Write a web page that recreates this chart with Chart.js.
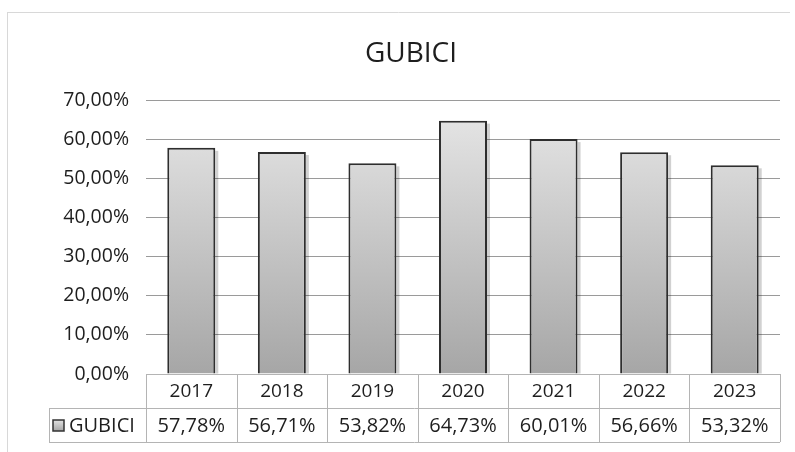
<!DOCTYPE html>
<html>
<head>
<meta charset="utf-8">
<script src="https://cdn.jsdelivr.net/npm/chart.js@4/dist/chart.umd.min.js"></script>
<style>
  html, body { margin: 0; padding: 0; background: #fff; }
  #wrap { width: 795px; height: 452px; position: relative; }
</style>
</head>
<body>
<div id="wrap"><canvas id="c" width="795" height="452"></canvas></div>
<script>
const titleText = 'GUBICI';
const seriesName = 'GUBICI';
const categories = ['2017', '2018', '2019', '2020', '2021', '2022', '2023'];
const values = [57.78, 56.71, 53.82, 64.73, 60.01, 56.66, 53.32];
const yMin = 0, yMax = 70, yStep = 10;

const FONT = "'Open Sans', 'Noto Sans', sans-serif";
const fmt = v => v.toFixed(2).replace('.', ',') + '%';

function barGradient(ctx) {
  const chart = ctx.chart;
  const area = chart.chartArea;
  if (!area) return '#c8c8c8';
  const g = chart.ctx.createLinearGradient(0, area.top, 0, area.bottom);
  g.addColorStop(0, '#e8e8e8');
  g.addColorStop(1, '#a6a6a6');
  return g;
}

const frameAndTable = {
  id: 'frameAndTable',
  beforeDatasetsDraw(chart) {
    // bar shadows
    const ctx = chart.ctx;
    const meta = chart.getDatasetMeta(0);
    ctx.save();
    ctx.fillStyle = 'rgba(0,0,0,0.18)';
    meta.data.forEach(b => {
      const w = b.width;
      ctx.fillRect(b.x + w / 2, b.y + 3, 3, b.base - b.y - 3);
    });
    ctx.restore();
  },
  afterDraw(chart) {
    const ctx = chart.ctx;
    const a = chart.chartArea;
    const n = categories.length;
    const cw = (a.right - a.left) / n;
    const r1Top = a.bottom, r1Bot = a.bottom + 34, r2Bot = a.bottom + 68;
    const leftCol = 49;
    ctx.save();
    // faint outer frame
    ctx.strokeStyle = '#d8d8d8';
    ctx.lineWidth = 1;
    ctx.beginPath();
    ctx.moveTo(7.5, 12); ctx.lineTo(7.5, 452);
    ctx.moveTo(7.5, 12.5); ctx.lineTo(790, 12.5);
    ctx.stroke();

    // title
    ctx.fillStyle = '#1e1e1e';
    ctx.textAlign = 'center';
    ctx.textBaseline = 'middle';
    ctx.font = '28px ' + FONT;
    ctx.fillText(titleText, 411, 54);

    // table borders
    ctx.strokeStyle = '#b4b4b4';
    ctx.beginPath();
    ctx.moveTo(a.left, r1Top + 0.5); ctx.lineTo(a.right, r1Top + 0.5);
    ctx.moveTo(leftCol, r1Bot + 0.5); ctx.lineTo(a.right, r1Bot + 0.5);
    ctx.moveTo(leftCol, r2Bot + 0.5); ctx.lineTo(a.right, r2Bot + 0.5);
    ctx.moveTo(leftCol + 0.5, r1Bot); ctx.lineTo(leftCol + 0.5, r2Bot);
    for (let i = 0; i <= n; i++) {
      const x = Math.round(a.left + i * cw) + 0.5;
      ctx.moveTo(x, r1Top); ctx.lineTo(x, r2Bot);
    }
    ctx.stroke();

    // texts
    ctx.fillStyle = '#1e1e1e';
    const xs = chart.scales.x;
    categories.forEach((c, i) => {
      const cx = xs.getPixelForValue(i);
      ctx.font = '19px ' + FONT;
      ctx.fillText(c, cx, (r1Top + r1Bot) / 2 + 1);
      ctx.font = '20px ' + FONT;
      ctx.fillText(fmt(values[i]), cx, (r1Bot + r2Bot) / 2 + 1);
    });

    // legend key + series name
    const ky = (r1Bot + r2Bot) / 2;
    const kx = 53;
    const g = ctx.createLinearGradient(0, ky - 6, 0, ky + 6);
    g.addColorStop(0, '#e8e8e8');
    g.addColorStop(1, '#a6a6a6');
    ctx.fillStyle = g;
    ctx.fillRect(kx, ky - 5, 11, 11);
    ctx.strokeStyle = '#333';
    ctx.lineWidth = 1.5;
    ctx.strokeRect(kx, ky - 5, 11, 11);
    ctx.fillStyle = '#1e1e1e';
    ctx.textAlign = 'left';
    ctx.font = '20px ' + FONT;
    ctx.fillText(seriesName, kx + 16, ky + 1);
    ctx.restore();
  }
};

new Chart(document.getElementById('c'), {
  type: 'bar',
  data: {
    labels: categories,
    datasets: [{
      label: seriesName,
      data: values,
      backgroundColor: barGradient,
      borderColor: '#2e2e2e',
      borderWidth: 2,
      borderSkipped: 'bottom',
      barPercentage: 1,
      categoryPercentage: 0.53
    }]
  },
  options: {
    responsive: false,
    animation: false,
    devicePixelRatio: 1,
    layout: { padding: { left: 0, right: 15, top: 100, bottom: 0 } },
    plugins: {
      legend: { display: false },
      tooltip: { enabled: false },
      title: { display: false }
    },
    scales: {
      x: {
        grid: { display: false, drawTicks: false },
        border: { display: false },
        ticks: { display: false },
        afterFit: s => { s.height = 78; }
      },
      y: {
        min: yMin,
        max: yMax,
        ticks: {
          stepSize: yStep,
          color: '#1e1e1e',
          font: { family: FONT, size: 19.5 },
          padding: 17,
          callback: v => fmt(v)
        },
        grid: { color: '#9a9a9a', lineWidth: 1, drawTicks: false },
        border: { display: false },
        afterFit: s => { s.width = 146; }
      }
    }
  },
  plugins: [frameAndTable]
});
</script>
</body>
</html>
